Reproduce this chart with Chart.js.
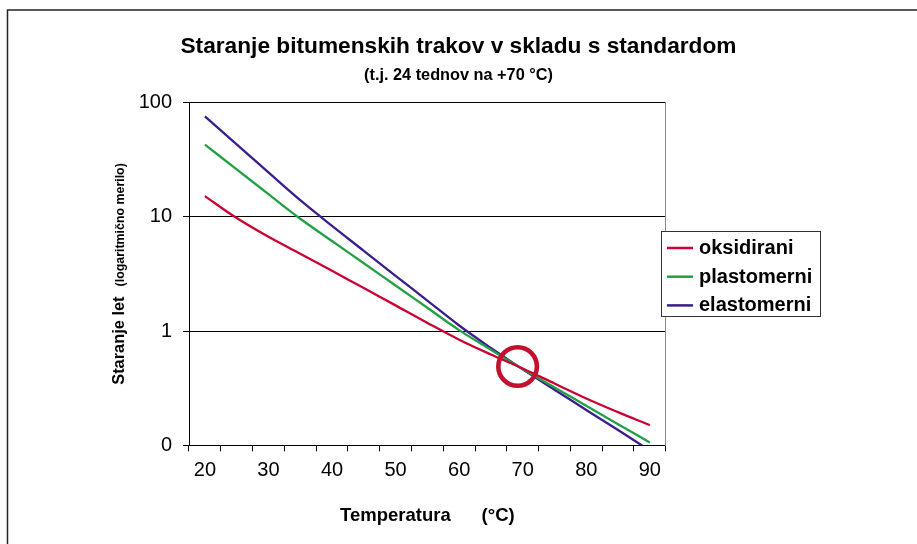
<!DOCTYPE html>
<html>
<head>
<meta charset="utf-8">
<script src="https://cdn.jsdelivr.net/npm/chart.js@4/dist/chart.umd.min.js"></script>
<style>
  html, body { margin: 0; padding: 0; background: #fff; }
  #wrap { width: 917px; height: 544px; position: relative; }
</style>
</head>
<body>
<div id="wrap"><canvas id="c" width="917" height="544"></canvas></div>
<script>
// ---- data ----
const chartTitle = 'Staranje bitumenskih trakov v skladu s standardom';
const chartSubtitle = '(t.j. 24 tednov na +70 °C)';
const xAxisTitle = 'Temperatura      (°C)';
const yAxisTitleMain = 'Staranje let';
const yAxisTitleNote = '(logaritmično merilo)';

const temperatures = [20, 25, 30, 35, 40, 45, 50, 55, 60, 65, 70, 75, 80, 85, 90];
const xTickLabels = ['20', '', '30', '', '40', '', '50', '', '60', '', '70', '', '80', '', '90'];

const seriesNames = ['oksidirani', 'plastomerni', 'elastomerni'];
const oksidirani  = [15.2, 9.77, 6.70, 4.76, 3.37, 2.38, 1.68, 1.18, 0.841, 0.624, 0.471, 0.348, 0.257, 0.195, 0.150];
const plastomerni = [42.9, 26.1, 15.8, 9.64, 6.15, 3.93, 2.51, 1.60, 1.02, 0.687, 0.465, 0.321, 0.222, 0.153, 0.106];
const elastomerni = [75.9, 43.2, 24.5, 14.0, 8.34, 5.05, 3.05, 1.85, 1.12, 0.711, 0.462, 0.307, 0.204, 0.136, 0.090];

const yTickValues = [0.1, 1, 10, 100];
const yTickLabels = ['0', '1', '10', '100'];

// marked crossing point (circle)
const markTemperature = 69.2;
const markValue = 0.49;

const seriesColors = ['#cc0033', '#22a046', '#3a1e8c'];

// ---- plugins ----
const framePlugin = {
  id: 'frame',
  beforeDraw(chart) {
    const ctx = chart.ctx;
    ctx.save();
    ctx.fillStyle = '#fff';
    ctx.fillRect(0, 0, chart.width, chart.height);
    ctx.strokeStyle = '#222';
    ctx.lineWidth = 1.5;
    ctx.beginPath();
    ctx.moveTo(7.5, chart.height + 5);
    ctx.lineTo(7.5, 10);
    ctx.lineTo(chart.width + 5, 10);
    ctx.stroke();
    ctx.restore();
  }
};

const yTitlePlugin = {
  id: 'yTitle',
  afterDraw(chart) {
    const ctx = chart.ctx;
    const area = chart.chartArea;
    ctx.save();
    const fBig = 'bold 16.4px "Liberation Sans", Arial, sans-serif';
    const fSmall = 'bold 12.4px "Liberation Sans", Arial, sans-serif';
    ctx.font = fBig;
    const wBig = ctx.measureText(yAxisTitleMain).width;
    ctx.font = fSmall;
    const wSmall = ctx.measureText(yAxisTitleNote).width;
    const gap = 10;
    const total = wBig + gap + wSmall;
    const cy = (area.top + area.bottom) / 2;
    ctx.translate(124, cy);
    ctx.rotate(-Math.PI / 2);
    ctx.fillStyle = '#000';
    ctx.textBaseline = 'alphabetic';
    ctx.textAlign = 'left';
    ctx.font = fBig;
    ctx.fillText(yAxisTitleMain, -total / 2, 0);
    ctx.font = fSmall;
    ctx.fillText(yAxisTitleNote, -total / 2 + wBig + gap, 0);
    ctx.restore();
  }
};

const markPlugin = {
  id: 'mark',
  afterDatasetsDraw(chart) {
    const xs = chart.scales.x, ys = chart.scales.y;
    const idx = (markTemperature - temperatures[0]) / (temperatures[1] - temperatures[0]);
    const px = xs.getPixelForValue(idx);
    const py = ys.getPixelForValue(markValue);
    const ctx = chart.ctx;
    ctx.save();
    ctx.strokeStyle = '#c4102e';
    ctx.lineWidth = 4.6;
    ctx.beginPath();
    ctx.arc(px, py, 19.3, 0, Math.PI * 2);
    ctx.stroke();
    ctx.restore();
  }
};

const legendPlugin = {
  id: 'boxLegend',
  afterDraw(chart) {
    const ctx = chart.ctx;
    ctx.save();
    const left = 661.5, top = 231.5, w = 159, h = 85;
    ctx.fillStyle = '#fff';
    ctx.fillRect(left, top, w, h);
    ctx.strokeStyle = '#333';
    ctx.lineWidth = 1;
    ctx.strokeRect(left, top, w, h);
    ctx.font = 'bold 20px "Liberation Sans", Arial, sans-serif';
    ctx.textBaseline = 'middle';
    ctx.textAlign = 'left';
    chart.data.datasets.forEach((ds, i) => {
      const y = top + 16.5 + i * 28.7;
      ctx.strokeStyle = ds.borderColor;
      ctx.lineWidth = 2.5;
      ctx.beginPath();
      ctx.moveTo(667, y);
      ctx.lineTo(693, y);
      ctx.stroke();
      ctx.fillStyle = '#000';
      ctx.fillText(ds.label, 699, y + 0.5);
    });
    ctx.restore();
  }
};

const datasets = [oksidirani, plastomerni, elastomerni].map((vals, i) => ({
  label: seriesNames[i],
  data: vals,
  borderColor: seriesColors[i],
  backgroundColor: seriesColors[i],
  borderWidth: 2.3,
  pointRadius: 0,
  tension: 0.35,
  fill: false
}));

new Chart(document.getElementById('c'), {
  type: 'line',
  data: { labels: temperatures.map(String), datasets },
  plugins: [framePlugin, yTitlePlugin, markPlugin, legendPlugin],
  options: {
    responsive: false,
    animation: false,
    devicePixelRatio: 1,
    layout: { padding: { left: 0, right: 0, top: 0, bottom: 0 } },
    plugins: {
      legend: { display: false },
      tooltip: { enabled: false },
      title: {
        display: true,
        text: chartTitle,
        color: '#000',
        font: { family: '"Liberation Sans", Arial, sans-serif', size: 22.7, weight: 'bold', lineHeight: 1.2 },
        padding: { top: 33.1, bottom: 0 }
      },
      subtitle: {
        display: true,
        text: chartSubtitle,
        color: '#000',
        font: { family: '"Liberation Sans", Arial, sans-serif', size: 16.3, weight: 'bold', lineHeight: 1.2 },
        padding: { top: 5.2, bottom: 17.6 }
      }
    },
    scales: {
      x: {
        type: 'category',
        offset: true,
        grid: { offset: true, drawOnChartArea: false, drawTicks: true, tickLength: 6, color: '#000', lineWidth: 1 },
        border: { display: true, color: '#000', width: 1 },
        ticks: {
          autoSkip: false, maxRotation: 0, minRotation: 0, padding: 7, color: '#000',
          font: { family: '"Liberation Sans", Arial, sans-serif', size: 20 },
          callback: (v, i) => xTickLabels[i]
        },
        title: {
          display: true, text: xAxisTitle, color: '#000',
          font: { family: '"Liberation Sans", Arial, sans-serif', size: 18.5, weight: 'bold', lineHeight: 1.2 },
          padding: { top: 0, bottom: 16.5 }
        },
        afterFit(s) { s.height = 544 - 445.3; }
      },
      y: {
        type: 'logarithmic',
        position: 'left',
        min: 0.1, max: 100,
        grid: { color: '#000', lineWidth: 1, drawTicks: true, tickLength: 6 },
        border: { display: true, color: '#000', width: 1 },
        ticks: {
          color: '#000', padding: 11,
          font: { family: '"Liberation Sans", Arial, sans-serif', size: 20 },
          callback: (v) => { const k = yTickValues.indexOf(v); return k >= 0 ? yTickLabels[k] : ''; }
        },
        afterBuildTicks(s) { s.ticks = yTickValues.map(v => ({ value: v })); },
        afterFit(s) { s.width = 189; }
      },
      pad: {
        type: 'linear',
        position: 'right',
        display: true,
        grid: { display: false },
        border: { display: true, color: '#8a8a8a', width: 1 },
        ticks: { display: false },
        afterFit(s) { s.width = 917 - 665.7; }
      }
    }
  }
});
</script>
</body>
</html>
